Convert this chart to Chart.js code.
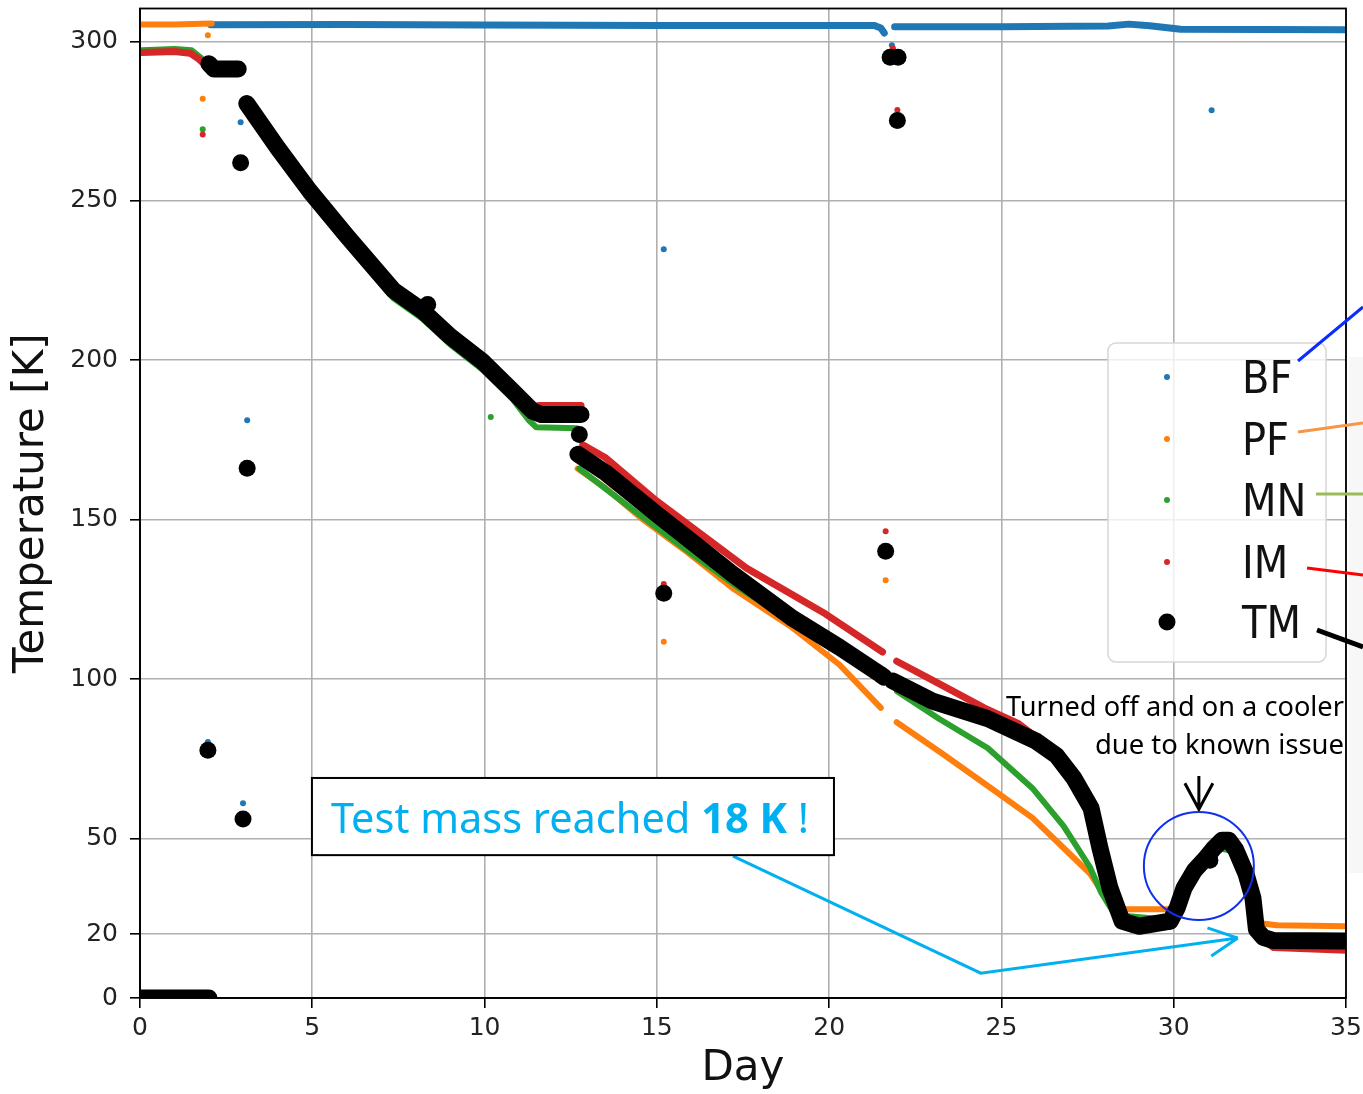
<!DOCTYPE html>
<html>
<head>
<meta charset="utf-8">
<script src="https://cdn.jsdelivr.net/npm/chart.js@4.4.1/dist/chart.umd.min.js"></script>
<style>
  html, body { margin: 0; padding: 0; background: #fff; overflow: hidden; }
  canvas { display: block; }
</style>
</head>
<body>
<canvas id="chart" width="1363" height="1094" style="width:1363px;height:1094px"></canvas>
<script>
// axis ticks
const dayTicks = [0, 5, 10, 15, 20, 25, 30, 35];
const tempTicks = [0, 20, 50, 100, 150, 200, 250, 300];

// [day, K]; [day, null] breaks the trace
const bfTrace = [
  [2.05, 305.2], [6, 305.3], [10, 305.1], [15, 305.0], [18, 305.0], [21.3, 305.0], [21.5, 304.2], [21.6, 302.6], [21.7, null],
  [21.9, 304.6], [25, 304.6], [28.1, 304.8], [28.7, 305.4], [29.3, 304.9], [30.2, 303.8], [35, 303.6]
];
const bfStray = [[1.97, 80.3], [2.92, 274.6], [2.99, 61.1], [3.11, 181.2], [15.2, 234.8], [21.82, 298.8], [31.1, 278.4]];

const pfTrace = [
  [0.05, 305.3], [1.0, 305.3], [1.8, 305.5], [2.08, 305.6], [2.1, null],
  [12.7, 166], [13.5, 160], [14.6, 150], [15.8, 140.5], [17.2, 128.5], [18.95, 116], [20.3, 104.5], [21.5, 91], [21.7, null],
  [21.96, 86.5], [23.3, 76.5], [24.67, 66], [25.9, 56.5], [27.0, 45], [27.57, 39], [28.1, 30.5], [28.6, 27.8], [29.9, 27.8],
  [30.2, 29], [30.5, 39], [31.4, 49], [31.7, 48.5], [32.1, 39], [32.3, 30], [32.45, 23.5], [33, 22.8], [35, 22.5]
];
const pfStray = [[1.82, 282], [1.97, 301.9], [15.2, 111.7], [21.64, 131]];

const mnTrace = [
  [0.05, 297.2], [1.0, 297.6], [1.5, 297.2], [1.75, 295], [2.0, 292.5], [2.1, null],
  [3.1, 278], [4.0, 264], [4.93, 250.5], [6.0, 236.5], [7.35, 219.5], [8.2, 213], [9.0, 205], [9.95, 197], [10.8, 188],
  [11.3, 181], [11.5, 179], [12.68, 178.7], [12.7, null],
  [12.75, 166], [14.5, 151.5], [16.05, 139], [17.4, 128.5], [19, 117.5], [20.5, 108], [21.5, 101.5], [21.7, null],
  [21.97, 96.2], [23.2, 87.5], [24.6, 78.4], [25.9, 65.8], [26.8, 54], [27.57, 41], [27.9, 33], [28.3, 26], [29.9, 24.5],
  [30.5, 38], [31.3, 47], [31.75, 46], [32.1, 38], [32.35, 26], [32.6, 19], [35, 18.5]
];
const mnStray = [[1.82, 272.4], [10.18, 182.2]];

const imTrace = [
  [0.05, 296.5], [1.0, 296.8], [1.45, 296.3], [1.7, 294.5], [2.0, 291.5], [2.8, 291], [2.9, null],
  [3.1, 281], [4.93, 254], [7.35, 223], [9.95, 200.5], [11.4, 185.5], [11.6, 185.8], [12.8, 185.8], [12.82, null],
  [12.85, 173.5], [13.5, 169.5], [15.0, 155.8], [17.6, 134.8], [19.9, 120.4], [21.55, 108.5], [21.7, null],
  [21.96, 105.6], [23.2, 98.5], [24.5, 91], [25.5, 86], [26.6, 77], [27.2, 67], [27.6, 57], [27.9, 45], [28.2, 33],
  [28.5, 25], [28.8, 21.5], [29.9, 22.5], [30.2, 27.5], [30.5, 38.5], [31.4, 48.5], [31.75, 47.5], [32.1, 37.5],
  [32.35, 28], [32.5, 19], [32.9, 15.8], [35, 15]
];
const imStray = [[1.82, 270.8], [15.2, 129.8], [21.64, 146.4], [21.98, 278.5], [21.85, 297.8]];

const tmTrace = [
  [0, 0], [2.0, 0], [2.02, null],
  [2.0, 293], [2.15, 291.3], [2.85, 291.3], [2.9, null],
  [3.1, 280.5], [4.0, 266.5], [4.93, 253], [6.0, 239], [7.35, 222], [8.2, 215.5], [9.0, 207.5], [9.95, 199.5],
  [10.8, 190.5], [11.4, 184], [11.65, 183], [12.8, 183], [12.82, null],
  [12.71, 170.5], [13.5, 164.8], [15.0, 151.7], [16.2, 141.5], [17.2, 132.9], [18.95, 119], [20.3, 110], [21.47, 101.6],
  [21.6, 100.6], [21.7, null],
  [21.85, 99.4], [23.0, 93.1], [24.6, 87.6], [26.0, 80.6], [26.6, 76], [27.1, 69], [27.6, 59.6], [27.86, 47],
  [28.15, 34.5], [28.5, 24.1], [29.0, 22.5], [29.9, 24.1], [30.1, 28.2], [30.3, 34.5], [30.6, 40], [30.9, 43.5],
  [31.15, 46.8], [31.4, 49.5], [31.6, 49.5], [31.8, 46.5], [32.1, 38.9], [32.3, 31.3], [32.4, 21.5], [32.6, 19],
  [32.9, 18], [35, 17.9]
];
const tmStray = [
  [1.97, 77.7], [2.92, 261.9], [2.99, 56.1], [3.11, 166.1], [8.35, 217.5], [12.75, 176.7], [15.2, 126.9],
  [21.64, 140.1], [21.77, 295], [22.0, 295], [21.98, 275.2], [31.05, 43.2]
];

const seriesNames = ['BF', 'PF', 'MN', 'IM', 'TM'];
const seriesColors = ['#1f77b4', '#ff7f0e', '#2ca02c', '#d62728', '#000000'];
const traces = [bfTrace, pfTrace, mnTrace, imTrace, tmTrace];
const strays = [bfStray, pfStray, mnStray, imStray, tmStray];
const traceWidths = [7, 6, 6, 7, 17];
const strayRadius = [3, 3, 3, 3, 8.5];

const pts = arr => arr.map(p => ({ x: p[0], y: p[1] }));

const datasets = [];
seriesNames.forEach((name, i) => {
  const order = seriesNames.length - i; // TM last = on top
  datasets.push({
    label: name,
    data: pts(traces[i]),
    borderColor: seriesColors[i],
    borderWidth: traceWidths[i],
    borderCapStyle: 'round',
    borderJoinStyle: 'round',
    pointRadius: 0,
    spanGaps: false,
    tension: 0,
    clip: 0,
    order: order
  });
  datasets.push({
    label: name + ' stray',
    data: pts(strays[i]),
    showLine: false,
    pointRadius: strayRadius[i],
    pointBackgroundColor: seriesColors[i],
    pointBorderWidth: 0,
    clip: 0,
    order: order
  });
});

function fitText(ctx, text, x, y, width, align) {
  const w = ctx.measureText(text).width;
  const sx = width / w;
  ctx.save();
  ctx.translate(align === 'right' ? x - width : x, y);
  ctx.scale(sx, 1);
  ctx.textAlign = 'left';
  ctx.fillText(text, 0, 0);
  ctx.restore();
}

const overlay = {
  id: 'overlay',
  afterDraw(chart) {
    const ctx = chart.ctx;
    const a = chart.chartArea;
    const xs = chart.scales.x, ys = chart.scales.y;
    const px = d => xs.getPixelForValue(d);
    const py = t => ys.getPixelForValue(t);
    ctx.save();

    // faint strip right of plot
    ctx.fillStyle = '#f7f7f7';
    ctx.fillRect(a.right + 3, 357, 20, 516);

    // frame
    ctx.strokeStyle = '#000';
    ctx.lineWidth = 1.8;
    ctx.strokeRect(a.left, a.top, a.right - a.left, a.bottom - a.top);

    // legend
    const lx = a.right - 238, ly = 343, lw = 218, lh = 319;
    ctx.beginPath();
    ctx.roundRect(lx, ly, lw, lh, 8);
    ctx.fillStyle = 'rgba(255,255,255,0.8)';
    ctx.fill();
    ctx.strokeStyle = '#d6d6d6';
    ctx.lineWidth = 1.5;
    ctx.stroke();
    const rowY = [377, 439, 500, 562, 622];
    ctx.font = '40px "DejaVu Sans"';
    ctx.textBaseline = 'alphabetic';
    seriesNames.forEach((n, i) => {
      ctx.beginPath();
      ctx.arc(lx + 59, rowY[i], strayRadius[i], 0, Math.PI * 2);
      ctx.fillStyle = seriesColors[i];
      ctx.fill();
      ctx.save();
      ctx.translate(lx + 134, rowY[i] + 16);
      ctx.scale(1, 1.12);
      ctx.fillStyle = '#111';
      ctx.fillText(n, 0, 0);
      ctx.restore();
    });

    // pointer lines leaving the legend
    const pointers = [
      ['#0a2cff', 3, 1298, 361, 1363, 307],
      ['#f79646', 3, 1298, 432, 1363, 423],
      ['#9bbb59', 3, 1316, 494, 1363, 494],
      ['#ff0000', 3, 1307, 568, 1363, 575],
      ['#000000', 5, 1317, 630, 1363, 647]
    ];
    pointers.forEach(p => {
      ctx.beginPath();
      ctx.moveTo(p[2], p[3]);
      ctx.lineTo(p[4], p[5]);
      ctx.strokeStyle = p[0];
      ctx.lineWidth = p[1];
      ctx.stroke();
    });

    // cooler note
    ctx.fillStyle = '#000';
    ctx.font = '28px "Noto Sans"';
    fitText(ctx, 'Turned off and on a cooler', px(34.94), py(88.4), 338, 'right');
    fitText(ctx, 'due to known issue', px(34.94), py(76.5), 249, 'right');

    // black arrow
    const ax = px(30.73), aTop = py(69.6), aTip = py(59.2);
    ctx.strokeStyle = '#000';
    ctx.lineWidth = 3;
    ctx.beginPath();
    ctx.moveTo(ax, aTop); ctx.lineTo(ax, aTip);
    ctx.moveTo(ax - 14, aTip - 26); ctx.lineTo(ax, aTip); ctx.lineTo(ax + 14, aTip - 26);
    ctx.stroke();

    // circle
    ctx.beginPath();
    ctx.ellipse(px(30.73), py(41.4), 55, 54, 0, 0, Math.PI * 2);
    ctx.strokeStyle = '#1030f0';
    ctx.lineWidth = 2;
    ctx.stroke();

    // cyan pointer
    const cp = [[17.21, 44.5], [24.4, 7.8], [31.86, 18.8]].map(p => [px(p[0]), py(p[1])]);
    ctx.strokeStyle = '#00b0f0';
    ctx.lineWidth = 3;
    ctx.beginPath();
    ctx.moveTo(cp[0][0], cp[0][1]);
    ctx.lineTo(cp[1][0], cp[1][1]);
    ctx.lineTo(cp[2][0], cp[2][1]);
    const ang = Math.atan2(cp[2][1] - cp[1][1], cp[2][0] - cp[1][0]);
    [0.46, -0.46].forEach(da => {
      ctx.moveTo(cp[2][0], cp[2][1]);
      ctx.lineTo(cp[2][0] - 32 * Math.cos(ang + da), cp[2][1] - 32 * Math.sin(ang + da));
    });
    ctx.stroke();

    // text box
    const bx0 = px(4.99), by0 = py(69.0), bx1 = px(20.14), by1 = py(44.8);
    ctx.fillStyle = '#fff';
    ctx.fillRect(bx0, by0, bx1 - bx0, by1 - by0);
    ctx.strokeStyle = '#000';
    ctx.lineWidth = 2;
    ctx.strokeRect(bx0, by0, bx1 - bx0, by1 - by0);
    const parts = [['Test mass reached ', ''], ['18 K', 'bold '], [' !', '']];
    let total = 0;
    parts.forEach(p => { ctx.font = p[1] + '42px "Noto Sans"'; total += ctx.measureText(p[0]).width; });
    ctx.save();
    ctx.translate(bx0 + 19, by0 + 55);
    ctx.scale(478 / total, 1);
    ctx.fillStyle = '#00b0f0';
    let cx = 0;
    parts.forEach(p => {
      ctx.font = p[1] + '42px "Noto Sans"';
      ctx.fillText(p[0], cx, 0);
      cx += ctx.measureText(p[0]).width;
    });
    ctx.restore();

    ctx.restore();
  }
};

const ctx = document.getElementById('chart').getContext('2d');

const options = {
  responsive: false,
  animation: false,
  layout: { padding: { left: 0, top: 8, right: 17, bottom: 0 } },
  scales: {
    x: {
      type: 'linear',
      min: 0,
      max: 35,
      afterBuildTicks: s => { s.ticks = dayTicks.map(v => ({ value: v })); },
      afterFit: s => { s.height = 96; s.paddingLeft = 0; s.paddingRight = 0; },
      grid: { color: '#b0b0b0', lineWidth: 1.6, tickColor: '#000', tickLength: 10, tickWidth: 1.6 },
      border: { color: '#000', width: 1.8 },
      ticks: { color: '#222', font: { family: 'DejaVu Sans', size: 25 }, padding: 5, maxRotation: 0 },
      title: { display: true, text: 'Day', color: '#111', font: { family: 'DejaVu Sans', size: 42 }, padding: { top: 0, bottom: 0 } }
    },
    y: {
      type: 'linear',
      min: 0,
      max: 310.3,
      afterBuildTicks: s => { s.ticks = tempTicks.map(v => ({ value: v })); },
      afterFit: s => { s.width = 140; s.paddingTop = 0; s.paddingBottom = 0; },
      grid: { color: '#b0b0b0', lineWidth: 1.6, tickColor: '#000', tickLength: 10, tickWidth: 1.6 },
      border: { color: '#000', width: 1.8 },
      ticks: { color: '#222', font: { family: 'DejaVu Sans', size: 25 }, padding: 12 },
      title: { display: true, text: 'Temperature [K]', color: '#111', font: { family: 'DejaVu Sans', size: 42 }, padding: { top: 7, bottom: 0 } }
    }
  },
  plugins: {
    legend: { display: false },
    tooltip: { enabled: false }
  }
};

new Chart(ctx, {
  type: 'line',
  data: { datasets: datasets },
  options: options,
  plugins: [overlay]
});
</script>
</body>
</html>
